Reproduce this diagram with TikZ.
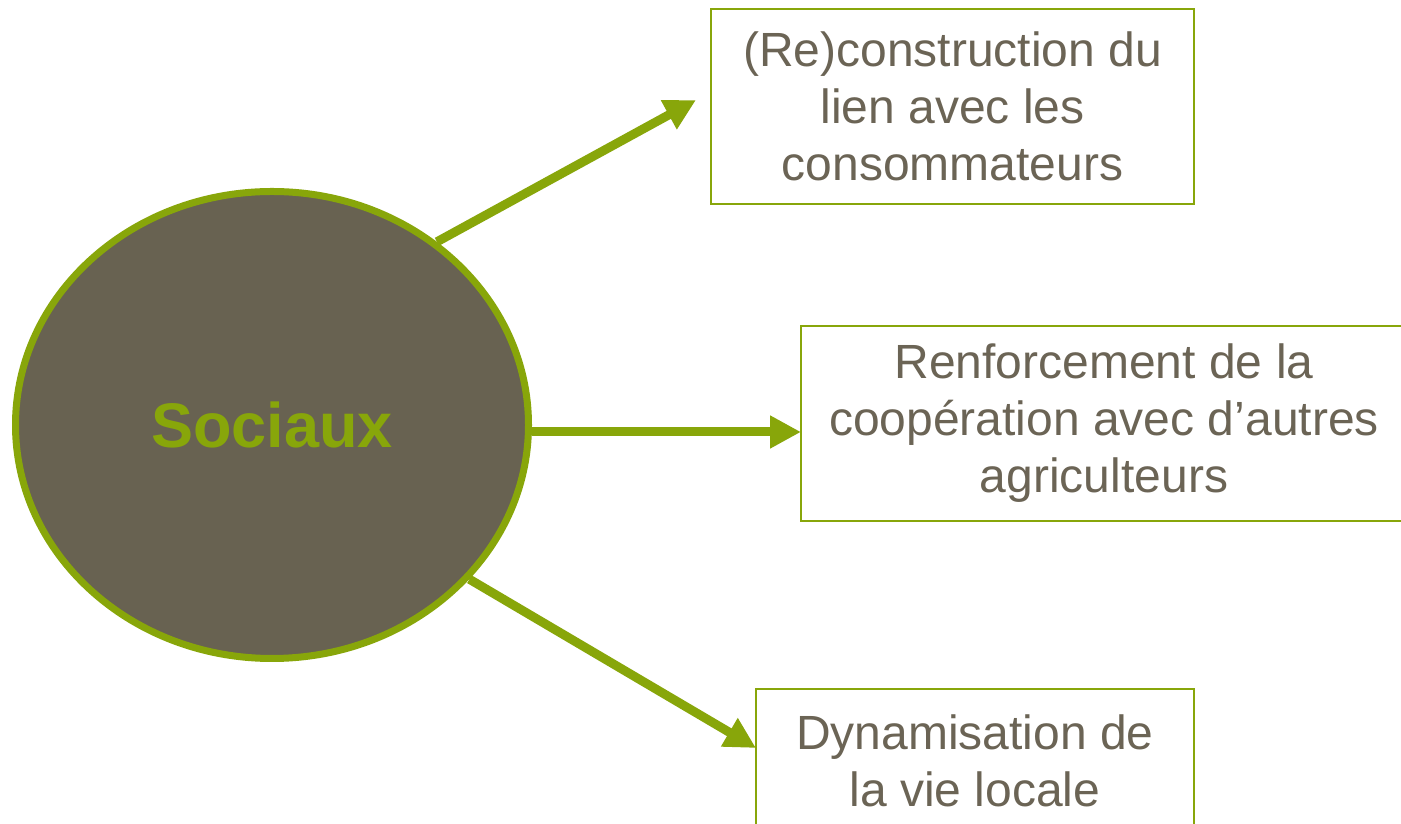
\documentclass[tikz,border=0pt]{standalone}
\usepackage{fontspec}
\setmainfont{Liberation Sans}
\usetikzlibrary{arrows.meta,shapes.geometric}
\definecolor{leaf}{HTML}{88A60A}
\definecolor{soil}{HTML}{686251}
\definecolor{ink}{HTML}{6B6455}
\tikzset{
  boxnode/.style={draw=leaf, line width=2pt, fill=white, rectangle, inner sep=0pt,
    align=center, text=ink, font=\fontsize{48}{57}\selectfont},
  bigarrow/.style={draw=leaf, line width=9pt, -{Triangle[width=31pt,length=31pt]}, color=leaf},
}
\begin{document}
\begin{tikzpicture}[x=1pt,y=1pt]
\clip (0,0) rectangle (1401,824);
\fill[white] (0,0) rectangle (1401,824);
\node[ellipse, draw=leaf, line width=7pt, fill=soil, minimum width=513pt, minimum height=467pt, inner sep=0pt,
  text=leaf, font=\fontsize{63}{70}\selectfont\bfseries] (soc) at (272,399) {Sociaux};
\node[boxnode, minimum width=483pt, minimum height=195pt] (b1) at (952.5,717.5)
  {(Re)construction du\\lien avec les\\consommateurs};
\node[boxnode, minimum width=606pt, minimum height=195pt] (b2) at (1104,400.5)
  {Renforcement de la\\coopération avec d’autres\\agriculteurs};
\node[boxnode, minimum width=438pt, minimum height=144pt] (b3) at (975,63)
  {Dynamisation de\\la vie locale};
\coordinate (t1) at (696,724);
\coordinate (t2) at (801,392);
\coordinate (t3) at (756,76);
\draw[bigarrow] (soc.48.6) -- (t1);
\draw[bigarrow] (soc.-1.5 |- t2) -- (t2);
\draw[bigarrow] (soc.-38.7) -- (t3);
\end{tikzpicture}
\end{document}
